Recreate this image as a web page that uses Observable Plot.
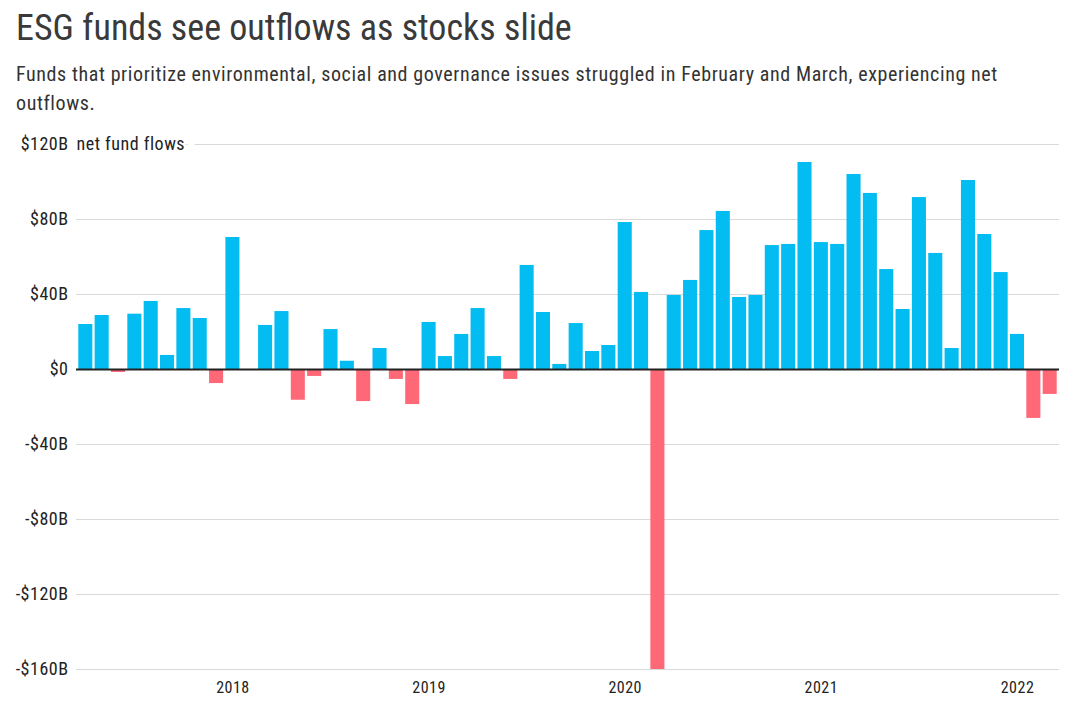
<!DOCTYPE html>
<html>
<head>
<meta charset="utf-8">
<script src="https://cdn.jsdelivr.net/npm/d3@7"></script>
<script src="https://cdn.jsdelivr.net/npm/@observablehq/plot@0.6"></script>
<style>
  html, body { margin: 0; padding: 0; background: #fff; }
  body { width: 1072px; height: 715px; position: relative; overflow: hidden;
         font-family: "Roboto Condensed", "Liberation Sans Narrow", "DejaVu Sans Condensed", sans-serif; }
  #title { position: absolute; left: 16px; top: 7px; font-size: 36px; color: #3a3a3a; white-space: nowrap; }
  #subtitle { position: absolute; left: 16px; top: 60px; font-size: 20px; letter-spacing: 0.6px; line-height: 29px; color: #333; white-space: nowrap; }
  #chart { position: absolute; left: 0; top: 125px; }
  #chart svg text { letter-spacing: 0.5px; }
</style>
</head>
<body>
<div id="title">ESG funds see outflows as stocks slide</div>
<div id="subtitle">Funds that prioritize environmental, social and governance issues struggled in February and March, experiencing net<br>outflows.</div>
<div id="chart"></div>
<script>
// Months Apr 2017 – Mar 2022
const months = [
  "2017-04","2017-05","2017-06","2017-07","2017-08","2017-09","2017-10","2017-11","2017-12",
  "2018-01","2018-02","2018-03","2018-04","2018-05","2018-06","2018-07","2018-08","2018-09","2018-10","2018-11","2018-12",
  "2019-01","2019-02","2019-03","2019-04","2019-05","2019-06","2019-07","2019-08","2019-09","2019-10","2019-11","2019-12",
  "2020-01","2020-02","2020-03","2020-04","2020-05","2020-06","2020-07","2020-08","2020-09","2020-10","2020-11","2020-12",
  "2021-01","2021-02","2021-03","2021-04","2021-05","2021-06","2021-07","2021-08","2021-09","2021-10","2021-11","2021-12",
  "2022-01","2022-02","2022-03"
];
// Net fund flows, $ billions
const flows = [
  24.0, 28.8, -1.6, 29.5, 36.3, 7.5, 32.5, 27.2, -7.5,
  70.4, 0, 23.5, 30.9, -16.4, -3.7, 21.3, 4.4, -17.1, 11.2, -5.3, -18.7,
  25.1, 6.9, 18.7, 32.5, 6.9, -5.3, 55.5, 30.4, 2.7, 24.5, 9.6, 12.8,
  78.4, 41.1, -160, 39.5, 47.5, 74.1, 84.3, 38.4, 39.5, 66.1, 66.7, 110.4,
  67.7, 66.7, 104, 93.9, 53.3, 32.0, 91.7, 61.9, 11.2, 100.8, 72, 51.7,
  18.7, -26.1, -13.3
];
const xTicks = ["2018-01","2019-01","2020-01","2021-01","2022-01"];
const yTicks = [-160, -120, -80, -40, 0, 40, 80, 120];
const axisTitle = ["net fund flows"];

const data = months.map((m, i) => ({month: m, value: flows[i]}));
const blue = "#03bcf1", red = "#ff6977";
const fmtY = v => v === 0 ? "$0" : (v < 0 ? "-" : "") + "$" + Math.abs(v) + "B";

const chart = Plot.plot({
  width: 1072,
  height: 590,
  marginTop: 19,
  marginBottom: 46,
  marginLeft: 76,
  marginRight: 13,
  style: {fontFamily: '"Roboto Condensed", "Liberation Sans Narrow", "DejaVu Sans Condensed", sans-serif', background: "#fff"},
  x: {type: "band", domain: months, padding: 0.14, round: false, axis: null},
  y: {domain: [-160, 120], axis: null},
  marks: [
    Plot.ruleY(yTicks, {stroke: "#d9d9d9", strokeWidth: 1}),
    Plot.text(axisTitle, {text: d => d, y: 120, frameAnchor: "left", textAnchor: "start", fontSize: 18,
      fill: "#222", stroke: "white", strokeWidth: 22, paintOrder: "stroke"}),
    Plot.barY(data, {x: "month", y: "value", fill: d => d.value < 0 ? red : blue}),
    Plot.ruleY([0], {stroke: "#222", strokeWidth: 1.8}),
    Plot.axisY({ticks: yTicks, tickSize: 0, tickPadding: 8, tickFormat: fmtY, fontSize: 18, color: "#222", label: null}),
    Plot.axisX({ticks: xTicks, tickSize: 0, tickPadding: 12, tickFormat: d => d.slice(0, 4), fontSize: 16, color: "#222", label: null})
  ]
});
document.getElementById("chart").appendChild(chart);
</script>
</body>
</html>
